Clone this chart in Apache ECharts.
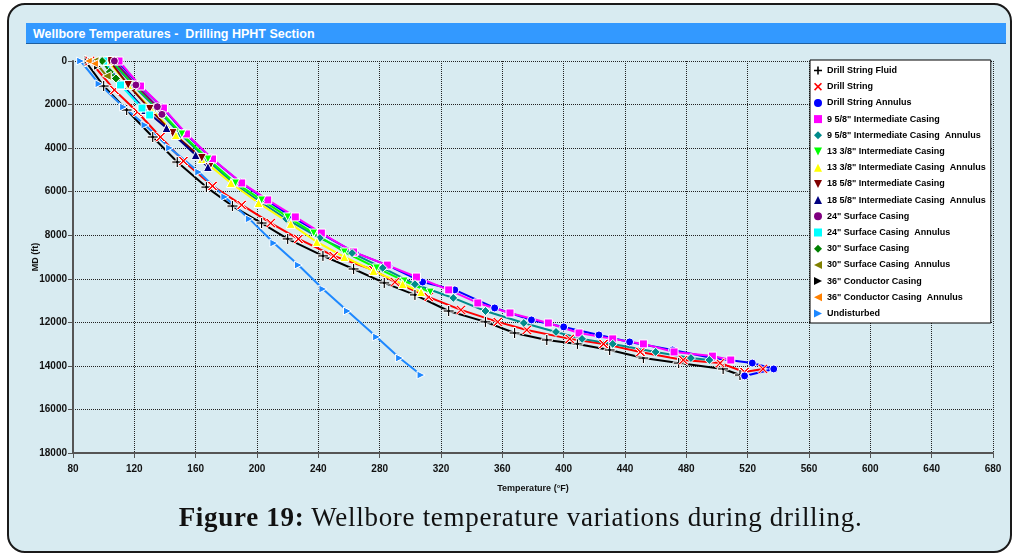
<!DOCTYPE html>
<html>
<head>
<meta charset="utf-8">
<script src="https://cdn.jsdelivr.net/npm/echarts@6/dist/echarts.min.js"></script>
<style>
  html, body { margin: 0; padding: 0; background: #fff; }
  #wrap { position: relative; width: 1019px; height: 558px; overflow: hidden; }
  #frame { position: absolute; left: 7px; top: 3px; width: 1001px; height: 546px; border: 2px solid #1a1a1a; border-radius: 18px; background: #d8ebf1; }
  #bar { position: absolute; left: 26px; top: 23px; width: 980px; height: 21px; background: #3399ff; border-bottom: 1px solid #1f5f9f; color: #fff; font: bold 12.5px 'Liberation Sans', Arial, sans-serif; line-height: 22px; padding-left: 7px; box-sizing: border-box; white-space: pre; }
  #chart { position: absolute; left: 0; top: 0; width: 1019px; height: 558px; }
  #caption { position: absolute; left: 11px; top: 502px; width: 1019px; text-align: center; font: 27px 'Liberation Serif', serif; letter-spacing: 0.7px; color: #111; }
</style>
</head>
<body>
<div id="wrap">
  <div id="frame"></div>
  <div id="bar">Wellbore Temperatures -  Drilling HPHT Section</div>
  <div id="chart"></div>
  <div id="caption"><b>Figure 19:</b> Wellbore temperature variations during drilling.</div>
</div>
<script>
// [temperature degF, MD ft]
const drillStringFluid = [[88,0],[100,1150],[115,2250],[132,3490],[148,4640],[167,5790],[184,6660],[203,7440],[220,8170],[243,8950],[263,9550],[283,10190],[303,10740],[325,11480],[349,11980],[368,12490],[389,12810],[409,12990],[430,13270],[452,13640],[475,13870],[504,14140],[515,14420]];
const drillString = [[91,0],[107,1330],[122,2340],[137,3490],[152,4590],[171,5740],[190,6610],[209,7440],[227,8170],[250,8950],[276,9600],[290,10150],[312,10840],[333,11430],[357,11980],[376,12350],[404,12760],[426,12990],[450,13360],[478,13730],[502,13870],[518,14280],[530,14140]];
const drillStringAnnulus = [[518,14460],[537,14140],[523,13870],[497,13640],[471,13270],[443,12900],[423,12580],[400,12210],[379,11890],[355,11340],[329,10510],[308,10150],[286,9410],[264,8800],[242,7940],[222,7120],[206,6380],[189,5560],[170,4450],[153,3310],[138,2110],[123,1100],[109,0]];
const casing958 = [[110,0],[124,1150],[139,2160],[154,3350],[171,4500],[190,5600],[207,6380],[225,7160],[242,7900],[263,8770],[285,9370],[304,9920],[325,10510],[344,11110],[365,11570],[390,12030],[410,12490],[432,12760],[452,12990],[472,13360],[497,13550],[509,13730]];
const annulus958 = [[105,0],[119,1100],[134,2150],[150,3350],[167,4500],[185,5650],[202,6450],[219,7250],[241,8130],[262,8820],[282,9500],[303,10250],[328,10880],[349,11480],[374,12030],[395,12440],[412,12760],[432,12990],[460,13360],[483,13640],[495,13730]];
const casing1338 = [[106,0],[120,1100],[135,2150],[151,3350],[168,4500],[186,5600],[203,6380],[220,7160],[237,7900],[257,8770],[278,9500],[296,10100],[313,10610]];
const annulus1338 = [[103,0],[116,1100],[131,2200],[147,3400],[164,4500],[183,5600],[201,6520],[222,7480],[239,8310],[257,9000],[276,9640],[295,10240],[307,10610]];
const casing1858 = [[104,0],[116,1100],[130,2200],[145,3310],[164,4450],[169,4870]];
const annulus1858 = [[100,0],[112,1100],[127,2250],[141,3080],[160,4320],[168,4870]];
const casing24 = [[107,0],[121,1100],[135,2100],[138,2450]];
const annulus24 = [[100,0],[111,1100],[125,2160],[130,2480]];
const casing30 = [[99,0],[104,500],[108,800]];
const annulus30 = [[94,0],[102,690]];
const casing36 = [[92,0],[96,250]];
const annulus36 = [[90,0],[94,120]];
const undisturbed = [[85,0],[97,1050],[113,2110],[127,2940],[143,3990],[162,5100],[179,6240],[195,7250],[211,8360],[227,9370],[243,10470],[259,11480],[278,12670],[293,13640],[307,14420]];

const PLUS = 'path://M4,0H6V4H10V6H6V10H4V6H0V4H4Z';
const CROSS = 'path://M1.4,0L5,3.6L8.6,0L10,1.4L6.4,5L10,8.6L8.6,10L5,6.4L1.4,10L0,8.6L3.6,5L0,1.4Z';
const TRI_DOWN = 'path://M0,0L10,0L5,10Z';
const TRI_LEFT = 'path://M10,0L10,10L0,5Z';
const TRI_RIGHT = 'path://M0,0L10,5L0,10Z';

const seriesDefs = [
  ['Drill String Fluid', drillStringFluid, PLUS, '#000000', 11],
  ['Drill String', drillString, CROSS, '#ff0000', 10],
  ['Drill String Annulus', drillStringAnnulus, 'circle', '#0000ff', 8],
  ['9 5/8" Intermediate Casing', casing958, 'rect', '#ff00ff', 8],
  ['9 5/8" Intermediate Casing  Annulus', annulus958, 'diamond', '#008b8b', 9],
  ['13 3/8" Intermediate Casing', casing1338, TRI_DOWN, '#00ff00', 8],
  ['13 3/8" Intermediate Casing  Annulus', annulus1338, 'triangle', '#ffff00', 9],
  ['18 5/8" Intermediate Casing', casing1858, TRI_DOWN, '#800000', 9],
  ['18 5/8" Intermediate Casing  Annulus', annulus1858, 'triangle', '#000080', 9],
  ['24" Surface Casing', casing24, 'circle', '#800080', 8],
  ['24" Surface Casing  Annulus', annulus24, 'rect', '#00ffff', 8],
  ['30" Surface Casing', casing30, 'diamond', '#008000', 9],
  ['30" Surface Casing  Annulus', annulus30, TRI_LEFT, '#808000', 9],
  ['36" Conductor Casing', casing36, TRI_RIGHT, '#000000', 8],
  ['36" Conductor Casing  Annulus', annulus36, TRI_LEFT, '#ff8000', 8],
  ['Undisturbed', undisturbed, TRI_RIGHT, '#1e88ff', 8]
];

const chart = echarts.init(document.getElementById('chart'));
const labelFont = { fontFamily: "'Liberation Sans', Arial, sans-serif", fontWeight: 'bold', color: '#111' };

const option = {
  animation: false,
  backgroundColor: 'transparent',
  grid: { left: 73, right: 26, top: 61, bottom: 105 },
  legend: {
    orient: 'vertical',
    left: 810,
    top: 60,
    padding: [6, 5, 5, 4],
    itemWidth: 8,
    itemHeight: 8,
    itemGap: 7.2,
    backgroundColor: '#ffffff',
    borderColor: '#000',
    borderWidth: 1,
    borderRadius: 0,
    textStyle: { fontSize: 9, fontWeight: 'bold', color: '#000', fontFamily: "'Liberation Sans', Arial, sans-serif" },
    data: seriesDefs.map(d => ({ name: d[0], icon: d[2], itemStyle: { color: d[3], borderWidth: 0 } }))
  },
  xAxis: {
    type: 'value', min: 80, max: 680, interval: 40,
    name: 'Temperature (°F)', nameLocation: 'middle', nameGap: 31,
    nameTextStyle: Object.assign({ fontSize: 9 }, labelFont),
    axisLine: { show: true, onZero: false, lineStyle: { color: '#555', width: 2 } },
    axisTick: { show: true, length: 5, lineStyle: { color: '#555' } },
    axisLabel: Object.assign({ fontSize: 10, margin: 11 }, labelFont),
    splitLine: { show: true, lineStyle: { color: '#222', type: 'dotted', width: 1 } }
  },
  yAxis: {
    type: 'value', inverse: true, min: 0, max: 18000, interval: 2000,
    name: 'MD (ft)', nameLocation: 'middle', nameGap: 33, nameRotate: 90,
    nameMoveOverlap: false,
    nameTextStyle: Object.assign({ fontSize: 9 }, labelFont),
    axisLine: { show: true, onZero: false, lineStyle: { color: '#555', width: 2 } },
    axisTick: { show: true, length: 5, lineStyle: { color: '#555' } },
    axisLabel: Object.assign({ fontSize: 10, margin: 6, formatter: v => String(v) }, labelFont),
    splitLine: { show: true, lineStyle: { color: '#222', type: 'dotted', width: 1 } }
  },
  series: seriesDefs.map(d => ({
    name: d[0],
    type: 'line',
    data: d[1],
    symbol: d[2],
    symbolSize: d[4],
    showAllSymbol: true,
    lineStyle: { color: d[3], width: 2 },
    itemStyle: { color: d[3], borderColor: '#fff', borderWidth: 1 },
    emphasis: { disabled: true }
  }))
};

chart.setOption(option);
</script>
</body>
</html>
